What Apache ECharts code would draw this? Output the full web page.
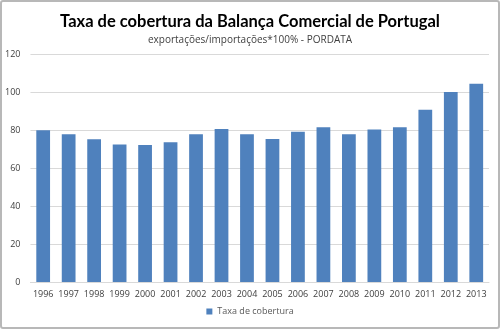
<!DOCTYPE html>
<html>
<head>
<meta charset="utf-8">
<script src="https://cdn.jsdelivr.net/npm/echarts@6/dist/echarts.min.js"></script>
<style>
  html, body { margin: 0; padding: 0; background: #fff; }
  #chart { width: 500px; height: 329px; box-sizing: border-box; border: 2px solid #b8b8b8; border-radius: 3px; }
</style>
</head>
<body>
<div id="chart"></div>
<script>
// Coverage rate (exports / imports * 100), Portugal
const years = ['1996','1997','1998','1999','2000','2001','2002','2003','2004','2005','2006','2007','2008','2009','2010','2011','2012','2013'];
const coverage = [79.9, 77.7, 75.1, 72.4, 72.1, 73.6, 77.7, 80.5, 77.7, 75.2, 79.1, 81.4, 77.7, 80.3, 81.4, 90.7, 100.0, 104.4];
const yTicks = { min: 0, max: 120, interval: 20 };

const chart = echarts.init(document.getElementById('chart'), null, { renderer: 'canvas' });
const font = '"Open Sans", "Noto Sans", sans-serif';

chart.setOption({
  animation: false,
  title: {
    text: 'Taxa de cobertura da Balança Comercial de Portugal',
    subtext: 'exportações/importações*100% - PORDATA',
    left: 'center',
    top: 6,
    itemGap: 5,
    textStyle: { fontFamily: 'Lato, "Open Sans", sans-serif', fontSize: 16.5, fontWeight: 'bold', color: '#000' },
    subtextStyle: { fontFamily: font, fontSize: 10, color: '#404040' }
  },
  legend: {
    bottom: 6,
    left: 'center',
    icon: 'rect',
    itemWidth: 6,
    itemHeight: 6,
    itemGap: 4,
    textStyle: { fontFamily: font, fontSize: 9, color: '#595959' },
    data: ['Taxa de cobertura']
  },
  grid: { left: 28, right: 9, top: 52, bottom: 45 },
  xAxis: {
    type: 'category',
    data: years,
    axisTick: { show: false },
    axisLine: { lineStyle: { color: '#d9d9d9' } },
    axisLabel: { fontFamily: font, fontSize: 9, color: '#404040', margin: 8, interval: 0 }
  },
  yAxis: {
    type: 'value',
    min: yTicks.min,
    max: yTicks.max,
    interval: yTicks.interval,
    axisLine: { show: false },
    axisTick: { show: false },
    splitLine: { lineStyle: { color: '#d9d9d9', width: 1 } },
    axisLabel: { fontFamily: font, fontSize: 9, color: '#404040', margin: 10 }
  },
  series: [{
    name: 'Taxa de cobertura',
    type: 'bar',
    data: coverage,
    barWidth: '54%',
    itemStyle: { color: '#4f81bd' }
  }]
});
</script>
</body>
</html>
